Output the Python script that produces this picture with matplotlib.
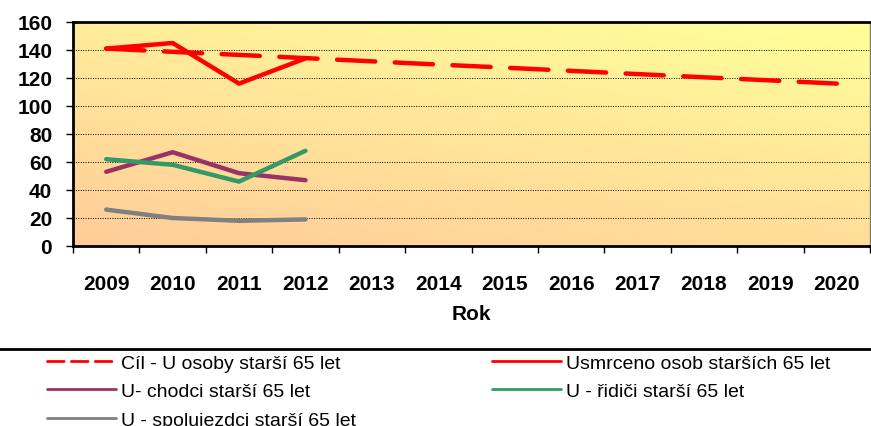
import numpy as np
import matplotlib
matplotlib.use("Agg")
import matplotlib.pyplot as plt
from matplotlib.colors import LinearSegmentedColormap

plt.rcParams['font.family'] = ['Liberation Sans', 'DejaVu Sans']

years = ['2009', '2010', '2011', '2012', '2013', '2014', '2015', '2016', '2017', '2018', '2019', '2020']
cil = [141, 138.7, 136.5, 134.2, 131.9, 129.6, 127.4, 125.1, 122.8, 120.5, 118.3, 116]
usmrceno = [141, 145, 116, 134]
chodci = [53, 67, 52, 47]
ridici = [62, 58, 46, 68]
spolujezdci = [26, 20, 18, 19]

x = np.arange(len(years))

fig = plt.figure(figsize=(8.71, 4.27), dpi=100)
ax = fig.add_axes([73 / 871, 1 - 247 / 427, 797 / 871, 224 / 427])

# background gradient orange (bottom left) -> yellow (top right)
cmap = LinearSegmentedColormap.from_list('bg', ['#FFCC99', '#FFFF99'])
gx, gy = np.meshgrid(np.linspace(0, 1, 200), np.linspace(0, 1, 200))
grad = 0.35 * gx + 0.65 * gy
ax.imshow(grad, cmap=cmap, origin='lower', extent=[0, 1, 0, 1],
          transform=ax.transAxes, aspect='auto', zorder=0)

l_cil, = ax.plot(x, cil, color='#FF0000', lw=3.2, dashes=(8.6, 4.4),
                 dash_capstyle='round', zorder=3, label='Cíl - U osoby starší 65 let')
l_usm, = ax.plot(x[:4], usmrceno, color='#FF0000', lw=3.2, solid_capstyle='round',
                 zorder=3, label='Usmrceno osob starších 65 let')
l_cho, = ax.plot(x[:4], chodci, color='#993366', lw=3.2, solid_capstyle='round',
                 zorder=3, label='U- chodci starší 65 let')
l_rid, = ax.plot(x[:4], ridici, color='#339966', lw=3.2, solid_capstyle='round',
                 zorder=3, label='U - řidiči starší 65 let')
l_spo, = ax.plot(x[:4], spolujezdci, color='#808080', lw=3.2, solid_capstyle='round',
                 zorder=3, label='U - spolujezdci starší 65 let')

ax.set_xlim(-0.5, len(years) - 0.5)
ax.set_ylim(0, 160)
ax.set_yticks(range(0, 161, 20))
ax.set_xticks(np.arange(len(years) + 1) - 0.5)
ax.set_xticklabels([])
ax.set_xticks(x, minor=True)
ax.set_xticklabels(years, minor=True)
ax.tick_params(axis='x', which='minor', length=0, pad=20)
ax.tick_params(axis='x', which='major', length=5, width=1, direction='out')
ax.tick_params(axis='y', length=5, width=1, direction='out', pad=10)
for lab in ax.get_xticklabels(minor=True) + ax.get_yticklabels():
    lab.set_fontsize(15)
    lab.set_fontweight('bold')

ax.grid(axis='y', color='black', linestyle=(0, (1, 1.5)), linewidth=0.7, zorder=1)
ax.set_axisbelow(False)
for sp in ax.spines.values():
    sp.set_linewidth(2)
    sp.set_zorder(4)
ax.spines['right'].set_color('#808060')
ax.spines['right'].set_linewidth(1)

ax.set_xlabel('Rok', fontsize=15, fontweight='bold', labelpad=8)

# separator line above legend
fig.add_artist(plt.Line2D([0, 1], [1 - 350 / 427, 1 - 350 / 427], color='black', lw=2,
                          transform=fig.transFigure))

leg_kw = dict(loc='upper left', frameon=False, fontsize=14, handlelength=3.55,
              handletextpad=0.25, labelspacing=0.56, borderpad=0, borderaxespad=0)
leg1 = fig.legend(handles=[l_cil, l_cho, l_spo], bbox_to_anchor=(47 / 871, 1 - 355 / 427), **leg_kw)
leg2 = fig.legend(handles=[l_usm, l_rid], bbox_to_anchor=(492 / 871, 1 - 355 / 427), **leg_kw)
for leg in (leg1, leg2):
    for ln in leg.get_lines():
        ln.set_linewidth(2)
leg1.get_lines()[0].set_dashes((6, 2.6))

fig.savefig('out.png', dpi=100)
